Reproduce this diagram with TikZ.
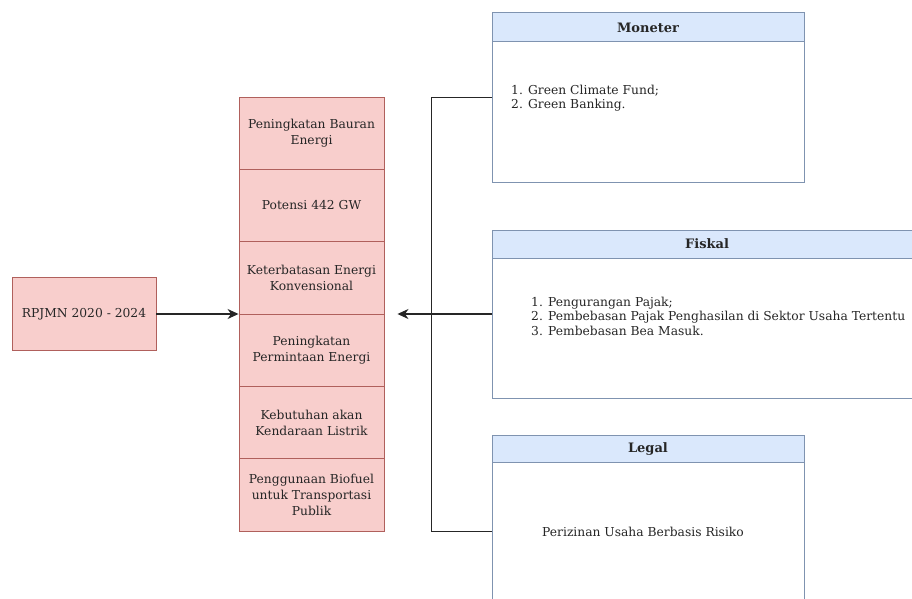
\documentclass[tikz,border=0pt]{standalone}
\usepackage{fontspec}
\setmainfont{DejaVu Serif}
\usetikzlibrary{arrows.meta}
\definecolor{pinkfill}{HTML}{F8CECC}
\definecolor{pinkline}{HTML}{B0605C}
\definecolor{bluefill}{HTML}{DAE8FC}
\definecolor{blueline}{HTML}{7F93B0}
\definecolor{txt}{HTML}{262626}
\begin{document}
\begin{tikzpicture}[x=1pt,y=-1pt,
  every node/.style={font=\fontsize{12.3}{16}\selectfont, text=txt},
  pinkbox/.style={draw=pinkline, fill=pinkfill, line width=0.9pt, minimum width=145pt, minimum height=72.33pt, align=center, inner sep=0pt},
  panel/.style={draw=blueline, fill=white, line width=1pt, inner sep=0pt},
  header/.style={draw=blueline, fill=bluefill, line width=1pt, inner sep=0pt, font=\fontsize{13}{14}\selectfont\bfseries},
  bodytext/.style={align=left, font=\fontsize{12.3}{14.5}\selectfont, inner sep=0pt},
  conn/.style={line width=1.3pt, draw=black!85},
  arr/.style={conn, -{Stealth[length=11pt,width=10pt,inset=3.5pt]}}
]
\useasboundingbox (0,0) rectangle (912,599);
\clip (0,0) rectangle (912,599);

% left box
\node[pinkbox, minimum width=144pt, minimum height=73pt] (rp) at (84,314) {RPJMN 2020 - 2024};

% stack
\node[pinkbox] (s1) at (311.5,133.17) {Peningkatan Bauran\\Energi};
\node[pinkbox] (s2) at (311.5,205.5) {Potensi 442 GW};
\node[pinkbox] (s3) at (311.5,277.83) {Keterbatasan Energi\\Konvensional};
\node[pinkbox] (s4) at (311.5,350.17) {Peningkatan\\Permintaan Energi};
\node[pinkbox] (s5) at (311.5,422.5) {Kebutuhan akan\\Kendaraan Listrik};
\node[pinkbox] (s6) at (311.5,494.83) {Penggunaan Biofuel\\untuk Transportasi\\Publik};

% panels
\node[panel, minimum width=312pt, minimum height=169pt] (moneter) at (648,97.5) {};
\node[header, minimum width=312pt, minimum height=29pt] (mhead) at (648,27.5) {Moneter};
\node[bodytext, anchor=west] (mtext) at (511,98) {1. Green Climate Fund;\\2. Green Banking.};

\node[panel, minimum width=430pt, minimum height=168pt] (fiskal) at (707,314) {};
\node[header, minimum width=430pt, minimum height=28pt] (fhead) at (707,244) {Fiskal};
\node[bodytext, anchor=west] (ftext) at (531,316) {1. Pengurangan Pajak;\\2. Pembebasan Pajak Penghasilan di Sektor Usaha Tertentu\\3. Pembebasan Bea Masuk.};

\node[panel, minimum width=312pt, minimum height=190pt] (legal) at (648,530) {};
\node[header, minimum width=312pt, minimum height=27pt] (lhead) at (648,448.5) {Legal};
\node[bodytext] (ltext) at (643,532) {Perizinan Usaha Berbasis Risiko};

% connectors
\coordinate (tip) at ([xshift=13pt]fiskal.west -| s3.east);
\coordinate (j) at ([xshift=-60pt]fiskal.west);
\draw[arr] (rp.east) -- (rp.east -| s3.west);
\draw[arr] (fiskal.west) -- (tip);
\draw[conn] (moneter.west) -| (j);
\draw[conn] (legal.west |- s6.south) -| (j);
\end{tikzpicture}
\end{document}
